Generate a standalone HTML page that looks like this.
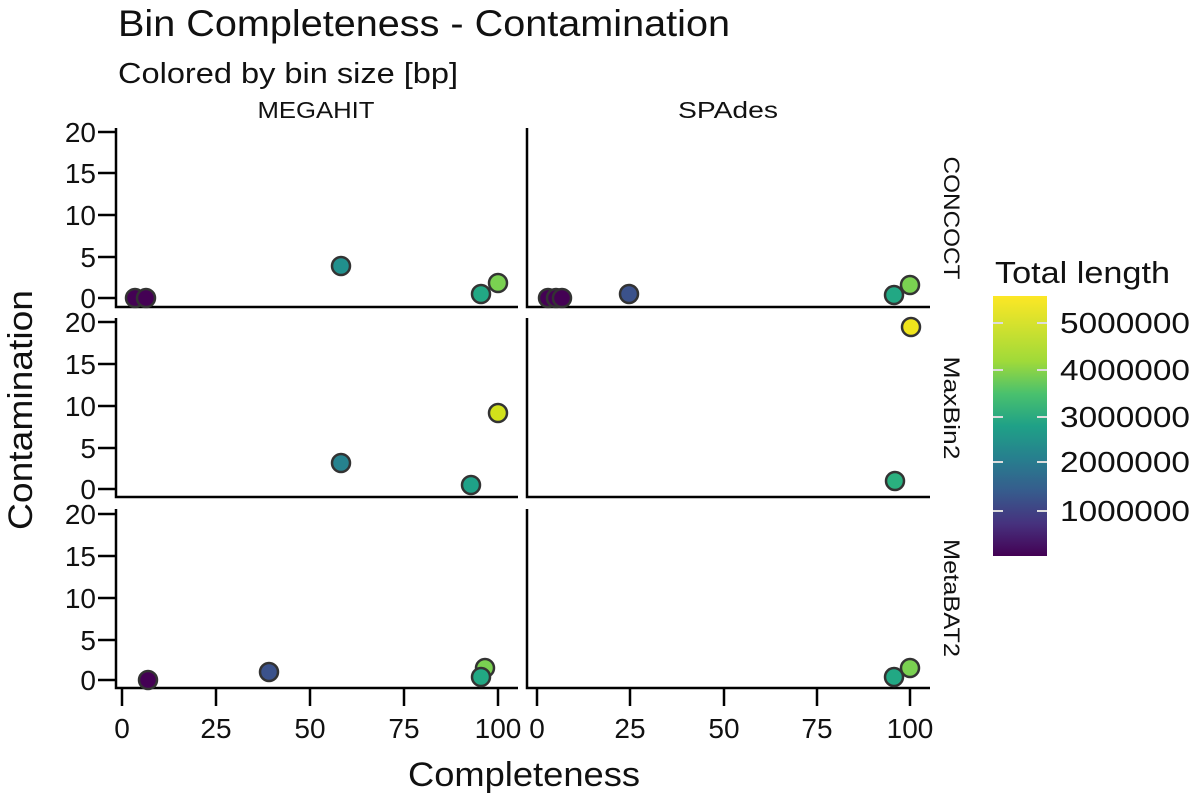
<!DOCTYPE html>
<html><head><meta charset="utf-8"><style>
html,body{margin:0;padding:0;background:#fff}
svg{display:block}
text{font-family:"Liberation Sans",sans-serif;fill:#111}
</style></head><body>
<svg width="1200" height="800" viewBox="0 0 1200 800">
<defs>
<linearGradient id="vir" x1="0" y1="1" x2="0" y2="0">
<stop offset="0" stop-color="#440154"/><stop offset="0.125" stop-color="#46327e"/>
<stop offset="0.25" stop-color="#365c8d"/><stop offset="0.375" stop-color="#277f8e"/>
<stop offset="0.5" stop-color="#1fa187"/><stop offset="0.625" stop-color="#4ac16d"/>
<stop offset="0.75" stop-color="#a0da39"/><stop offset="1" stop-color="#fde725"/>
</linearGradient>
</defs>
<text x="118" y="36" font-size="37" textLength="612" lengthAdjust="spacingAndGlyphs">Bin Completeness - Contamination</text>
<text x="118" y="83" font-size="29" textLength="340" lengthAdjust="spacingAndGlyphs">Colored by bin size [bp]</text>
<text x="316" y="118" font-size="23" text-anchor="middle" textLength="117" lengthAdjust="spacingAndGlyphs">MEGAHIT</text>
<text x="728" y="118" font-size="23" text-anchor="middle" textLength="100" lengthAdjust="spacingAndGlyphs">SPAdes</text>

<g stroke="#000" stroke-width="2.5" fill="none">
<path d="M116 128V307H518M527 128V307H930"/>
<path d="M116 318V497H518M527 318V497H930"/>
<path d="M116 509V688H518M527 509V688H930"/>
<path d="M98 132H116M98 173H116M98 215H116M98 257H116M98 298H116"/>
<path d="M98 322H116M98 364H116M98 406H116M98 448H116M98 489H116"/>
<path d="M98 514H116M98 556H116M98 598H116M98 640H116M98 680H116"/>
<path d="M122 688V706M216 688V706M310 688V706M404 688V706M498 688V706"/>
<path d="M537 688V706M630 688V706M724 688V706M817 688V706M910 688V706"/>
</g>
<g font-size="28" text-anchor="end">
<text x="96" y="142">20</text><text x="96" y="183">15</text><text x="96" y="225">10</text><text x="96" y="267">5</text><text x="96" y="308">0</text>
<text x="96" y="332">20</text><text x="96" y="374">15</text><text x="96" y="416">10</text><text x="96" y="458">5</text><text x="96" y="499">0</text>
<text x="96" y="524">20</text><text x="96" y="566">15</text><text x="96" y="608">10</text><text x="96" y="650">5</text><text x="96" y="690">0</text>
</g>
<g font-size="28" text-anchor="middle">
<text x="122" y="738">0</text><text x="216" y="738">25</text><text x="310" y="738">50</text><text x="404" y="738">75</text><text x="498" y="738">100</text>
<text x="537" y="738">0</text><text x="630" y="738">25</text><text x="724" y="738">50</text><text x="817" y="738">75</text><text x="910" y="738">100</text>
</g>
<text x="524" y="786" font-size="34" text-anchor="middle" textLength="232" lengthAdjust="spacingAndGlyphs">Completeness</text>
<text transform="translate(32,410) rotate(-90)" font-size="34" text-anchor="middle" textLength="240" lengthAdjust="spacingAndGlyphs">Contamination</text>
<g font-size="22" text-anchor="middle">
<text transform="translate(944,218) rotate(90)" textLength="123" lengthAdjust="spacingAndGlyphs">CONCOCT</text>
<text transform="translate(944,408) rotate(90)" textLength="103" lengthAdjust="spacingAndGlyphs">MaxBin2</text>
<text transform="translate(944,598) rotate(90)" textLength="118" lengthAdjust="spacingAndGlyphs">MetaBAT2</text>
</g>

<g stroke="#333" stroke-width="2.5">
<circle cx="135" cy="298" r="9" fill="#440154"/><circle cx="146" cy="298" r="9" fill="#440154"/>
<circle cx="341" cy="266" r="9" fill="#21908d"/><circle cx="481" cy="294" r="9" fill="#22a884"/><circle cx="498" cy="283" r="9" fill="#7ad151"/>
<circle cx="548" cy="298" r="9" fill="#440154"/><circle cx="556" cy="298" r="9" fill="#440154"/><circle cx="562" cy="298" r="9" fill="#440154"/>
<circle cx="629" cy="294" r="9" fill="#3b528b"/><circle cx="894" cy="295" r="9" fill="#22a884"/><circle cx="910" cy="285" r="9" fill="#7ad151"/>
<circle cx="341" cy="463" r="9" fill="#26828e"/><circle cx="471" cy="485" r="9" fill="#1fa188"/><circle cx="498" cy="413" r="9" fill="#d2e21b"/>
<circle cx="911" cy="327" r="9" fill="#f0e51c"/><circle cx="895" cy="481" r="9" fill="#2ab07f"/>
<circle cx="148" cy="680" r="9" fill="#440154"/><circle cx="269" cy="672" r="9" fill="#3b528b"/>
<circle cx="485" cy="668" r="9" fill="#7ad151"/><circle cx="481" cy="677" r="9" fill="#22a884"/>
<circle cx="894" cy="677" r="9" fill="#22a884"/><circle cx="910" cy="668" r="9" fill="#7ad151"/>
</g>

<text x="995" y="283" font-size="31" textLength="175" lengthAdjust="spacingAndGlyphs">Total length</text>
<rect x="993" y="296" width="54" height="260" fill="url(#vir)"/>
<g stroke="#ddd" stroke-width="2">
<path d="M993 323H1003M1037 323H1047M993 370H1003M1037 370H1047M993 417H1003M1037 417H1047M993 462H1003M1037 462H1047M993 511H1003M1037 511H1047"/>
</g>
<g font-size="29">
<text x="1060" y="333" textLength="130" lengthAdjust="spacingAndGlyphs">5000000</text>
<text x="1060" y="380" textLength="130" lengthAdjust="spacingAndGlyphs">4000000</text>
<text x="1060" y="427" textLength="130" lengthAdjust="spacingAndGlyphs">3000000</text>
<text x="1060" y="472" textLength="130" lengthAdjust="spacingAndGlyphs">2000000</text>
<text x="1060" y="521" textLength="130" lengthAdjust="spacingAndGlyphs">1000000</text>
</g>
</svg>
</body></html>
